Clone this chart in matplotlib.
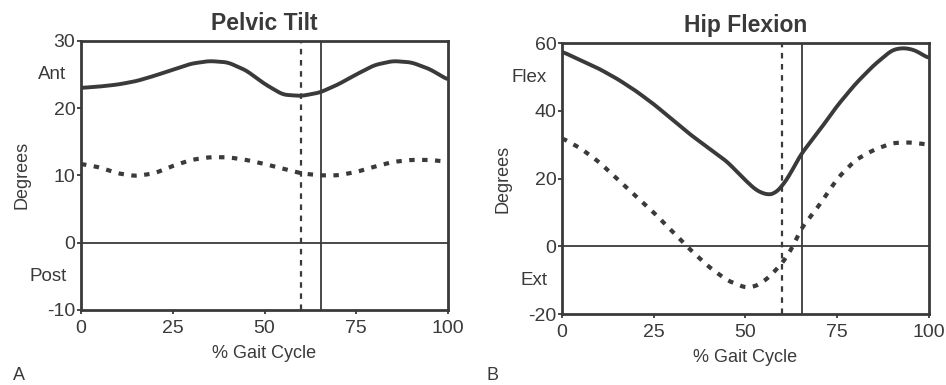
import numpy as np
import matplotlib.pyplot as plt

plt.rcParams['font.family'] = ['Liberation Sans', 'DejaVu Sans']
plt.rcParams['axes.unicode_minus'] = False

INK = '#3a3a3a'

# Pelvic tilt
pelvis_x = [0, 5, 10, 15, 20, 25, 30, 35, 40, 45, 50, 55, 60, 65, 70, 75, 80, 85, 90, 95, 100]
pelvis_solid = [23.0, 23.2, 23.5, 24.0, 24.8, 25.7, 26.6, 27.0, 26.8, 25.6, 23.6, 22.0, 21.8, 22.3, 23.5, 25.0, 26.4, 27.0, 26.8, 25.8, 24.2]
pelvis_dotted = [11.7, 11.2, 10.3, 9.9, 10.3, 11.4, 12.3, 12.7, 12.7, 12.3, 11.7, 11.0, 10.3, 10.0, 10.0, 10.5, 11.3, 12.0, 12.3, 12.3, 12.0]

# Hip flexion
hip_x = [0, 5, 10, 15, 20, 25, 30, 35, 40, 45, 50, 53, 56, 58, 60, 62, 65, 70, 75, 80, 85, 90, 93, 96, 100]
hip_solid = [57.5, 55.0, 52.5, 49.5, 46.0, 42.0, 37.5, 33.0, 29.0, 25.0, 19.5, 16.5, 15.2, 15.6, 17.8, 21.0, 27.0, 34.0, 41.5, 48.0, 53.5, 58.0, 58.6, 58.0, 55.5]
hip_dotted_x = [0, 5, 10, 15, 20, 25, 30, 35, 40, 45, 50, 53, 56, 60, 63, 65, 70, 75, 80, 85, 90, 95, 100]
hip_dotted = [32.0, 29.0, 25.0, 20.0, 15.0, 10.0, 4.5, -1.0, -6.0, -10.0, -12.2, -11.7, -9.5, -5.0, 0.0, 5.0, 12.0, 20.0, 25.5, 28.5, 30.5, 30.7, 30.0]

toe_off_dashed = 60
toe_off_solid = 65.5


def smooth(x, y):
    xs = np.linspace(min(x), max(x), 400)
    ys = np.interp(xs, x, y)
    k = np.ones(11) / 11
    pad = np.pad(ys, 5, mode='edge')
    ys = np.convolve(pad, k, mode='valid')
    return xs, ys


def panel(ax, x, ys, xd, yd, ylim, yticks, title, up, down, up_y, down_y):
    sx, sy = smooth(x, ys)
    dx, dy = smooth(xd, yd)
    ax.plot(sx, sy, color=INK, lw=2.8, solid_capstyle='butt')
    ax.plot(dx, dy, color=INK, lw=3.0, linestyle=(0, (1.3, 1.8)))
    ax.axhline(0, color=INK, lw=1.3)
    ax.axvline(toe_off_dashed, color=INK, lw=1.6, linestyle=(0, (2.5, 2.5)))
    ax.axvline(toe_off_solid, color=INK, lw=1.3)
    ax.set_xlim(0, 100)
    ax.set_ylim(*ylim)
    ax.set_xticks([0, 25, 50, 75, 100])
    ax.set_yticks(yticks)
    ax.tick_params(colors=INK, labelsize=14, length=3, width=1.3, pad=1)
    ax.tick_params(axis='x', pad=4)
    for s in ax.spines.values():
        s.set_linewidth(2.0)
        s.set_color(INK)
    ax.set_title(title, fontsize=16.5, fontweight='bold', color=INK, pad=8)
    ax.set_xlabel('% Gait Cycle', fontsize=13, color=INK, labelpad=6)
    ax.set_ylabel('Degrees', fontsize=13, color=INK, labelpad=12)
    ax.text(-4, up_y, up, ha='right', va='center', fontsize=13.5, color=INK, clip_on=False)
    ax.text(-4, down_y, down, ha='right', va='center', fontsize=13.5, color=INK, clip_on=False)


fig = plt.figure(figsize=(9.46, 3.85), dpi=100)
ax1 = fig.add_axes([0.0856, 0.195, 0.388, 0.699])
ax2 = fig.add_axes([0.594, 0.184, 0.388, 0.704])

panel(ax1, pelvis_x, pelvis_solid, pelvis_x, pelvis_dotted, (-10, 30), [-10, 0, 10, 20, 30],
      'Pelvic Tilt', 'Ant', 'Post', 25, -5)
panel(ax2, hip_x, hip_solid, hip_dotted_x, hip_dotted, (-20, 60), [-20, 0, 20, 40, 60],
      'Hip Flexion', 'Flex', 'Ext', 50, -10)

fig.text(13 / 946, 1 - 375 / 385, 'A', fontsize=13, color=INK, va='center')
fig.text(486 / 946, 1 - 375 / 385, 'B', fontsize=13, color=INK, va='center')

fig.savefig('out.png', dpi=100)
